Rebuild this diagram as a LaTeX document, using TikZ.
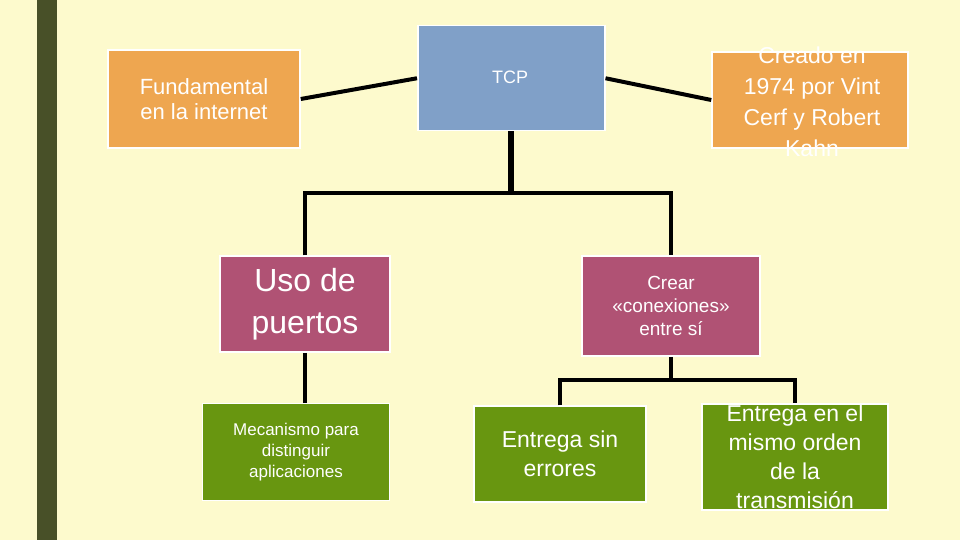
\documentclass[tikz,border=0pt]{standalone}
\usepackage{fontspec}
\setmainfont{Liberation Sans}
\definecolor{bg}{RGB}{253,250,205}
\definecolor{bar}{RGB}{72,80,40}
\definecolor{org}{RGB}{238,166,80}
\definecolor{blu}{RGB}{128,160,200}
\definecolor{pnk}{RGB}{176,82,116}
\definecolor{grn}{RGB}{104,150,16}
\begin{document}
\begin{tikzpicture}[x=1pt,y=-1pt,
 box/.style={draw=white,line width=1.5pt,minimum width=#1,text=white,align=center,inner sep=0pt},
 ln/.style={line width=4pt,black}]
\fill[bg] (0,0) rectangle (960,540);
\useasboundingbox (0,0) rectangle (960,540);
\fill[bar] (37,0) rectangle (57,540);
\node[box=192pt,fill=org,minimum height=98pt,font=\fontsize{22}{25}\selectfont] (fund) at (204,99) {Fundamental\\en la internet};
\node[box=187pt,fill=blu,minimum height=105pt,anchor=north west] (tcp) at (417,25) {};
\node[text=white,font=\fontsize{18}{20}\selectfont] at (510,77) {TCP};
\node[box=196pt,fill=org,minimum height=96pt,font=\fontsize{23}{31}\selectfont] (cre) at (810,100) {};
\node[text=white,align=center,font=\fontsize{23}{31}\selectfont] at (812,102) {Creado en\\1974 por Vint\\Cerf y Robert\\Kahn};
\node[box=170pt,fill=pnk,minimum height=96pt,font=\fontsize{32}{42}\selectfont] (uso) at (305,304) {Uso de\\puertos};
\node[box=178pt,fill=pnk,minimum height=100pt,font=\fontsize{19}{23}\selectfont] (crear) at (671,306) {Crear\\«conexiones»\\entre sí};
\node[box=187pt,fill=grn,minimum height=97pt,font=\fontsize{17}{21}\selectfont] (mec) at (296,452) {Mecanismo para\\distinguir\\aplicaciones};
\node[box=172pt,fill=grn,minimum height=96pt,font=\fontsize{23}{29}\selectfont] (sin) at (560,454) {Entrega sin\\errores};
\node[box=186pt,fill=grn,minimum height=106pt,font=\fontsize{23}{29}\selectfont] (mis) at (795,457) {Entrega en el\\mismo orden\\de la\\transmisión};
\draw[ln] (fund.east) ++(0,0) -- (tcp.west);
\draw[ln] (tcp.east) -- (cre.west);
\draw[line width=6pt] (tcp.south) -- ++(0,63);
\draw[ln] (uso.north) |- (510,193) -| (crear.north);
\draw[ln] (uso.south) -- (mec.north -| uso.south);
\draw[ln] (crear.south) -- (671,380);
\draw[ln] (sin.north) |- (671,380) -| (mis.north);
\end{tikzpicture}
\end{document}
